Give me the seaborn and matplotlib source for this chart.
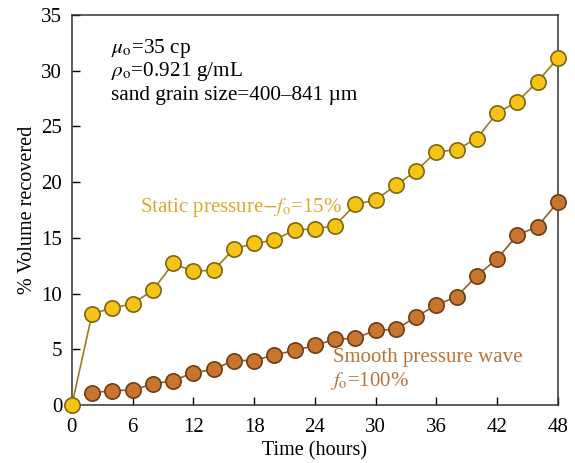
import numpy as np
import pandas as pd
import matplotlib
matplotlib.use("Agg")
import matplotlib.pyplot as plt
import seaborn as sns

# time in hours, % volume recovered
time_static = [0, 2, 4, 6, 8, 10, 12, 14, 16, 18, 20, 22, 24,
               26, 28, 30, 32, 34, 36, 38, 40, 42, 44, 46, 48]
static = [0, 8.2, 8.7, 9.1, 10.3, 12.7, 12.0, 12.1, 14.0, 14.5, 14.8, 15.7, 15.8,
          16.1, 18.0, 18.4, 19.7, 21.0, 22.7, 22.9, 23.9, 26.2, 27.2, 29.0, 31.1]

time_wave = [2, 4, 6, 8, 10, 12, 14, 16, 18, 20, 22, 24,
             26, 28, 30, 32, 34, 36, 38, 40, 42, 44, 46, 48]
wave = [1.1, 1.3, 1.35, 1.9, 2.2, 2.9, 3.2, 4.0, 4.0, 4.5, 4.9, 5.35,
        5.9, 6.0, 6.7, 6.8, 7.9, 9.0, 9.7, 11.6, 13.1, 15.25, 16.0, 18.2]

xticks = [0, 6, 12, 18, 24, 30, 36, 42, 48]
yticks = [0, 5, 10, 15, 20, 25, 30, 35]

sns.set_style("ticks")
plt.rcParams['font.family'] = ['Liberation Serif', 'DejaVu Serif']
plt.rcParams['mathtext.fontset'] = 'stix'
plt.rcParams['text.color'] = 'black'
plt.rcParams['axes.labelcolor'] = 'black'

fig = plt.figure(figsize=(5.75, 4.63), dpi=100)
ax = fig.add_axes([0.125, 0.125, 0.845, 0.843])

sns.lineplot(x=time_wave, y=wave, ax=ax, color="#9a5a26", lw=1.2,
             marker="o", markersize=11, markerfacecolor="#c8762f",
             markeredgecolor="#6e3d14", markeredgewidth=1.2, clip_on=False, zorder=3)
sns.lineplot(x=time_static, y=static, ax=ax, color="#9a7d1c", lw=1.2,
             marker="o", markersize=11, markerfacecolor="#f6c417",
             markeredgecolor="#806413", markeredgewidth=1.2, clip_on=False, zorder=4)

ax.set_xlim(0, 48)
ax.set_ylim(0, 35)
ax.set_xticks(xticks)
ax.set_yticks(yticks)
ax.tick_params(direction="in", length=6, width=1, labelsize=15, colors="black",
               top=False, right=False)
ax.tick_params(axis="y", pad=7)
ax.tick_params(axis="x", pad=9)
for s in ax.spines.values():
    s.set_linewidth(1.1)
    s.set_color("#333333")
ax.set_xlabel("Time (hours)", fontsize=14.5, labelpad=3)
ax.set_ylabel("% Volume recovered", fontsize=14.5, labelpad=3)

fs = 15.3
ax.text(3.9, 32.0, r"$\mu_{\rm o}$=35 cp", fontsize=fs, va="center")
ax.text(3.9, 29.95, r"$\rho_{\rm o}$=0.921 g/mL", fontsize=fs, va="center")
ax.text(3.9, 27.75, "sand grain size=400\u2013841 \u00b5m", fontsize=fs, va="center")

ax.text(6.7, 17.7, r"Static pressure$-f_{\rm o}$=15%", fontsize=15,
        color="#d9aa2f", va="center")
ax.text(25.8, 4.3, "Smooth pressure wave", fontsize=15, color="#b8733a", va="center")
ax.text(25.5, 2.15, r"$f_{\rm o}$=100%", fontsize=15, color="#b8733a", va="center")

fig.savefig("out.png", dpi=100)
plt.close(fig)
